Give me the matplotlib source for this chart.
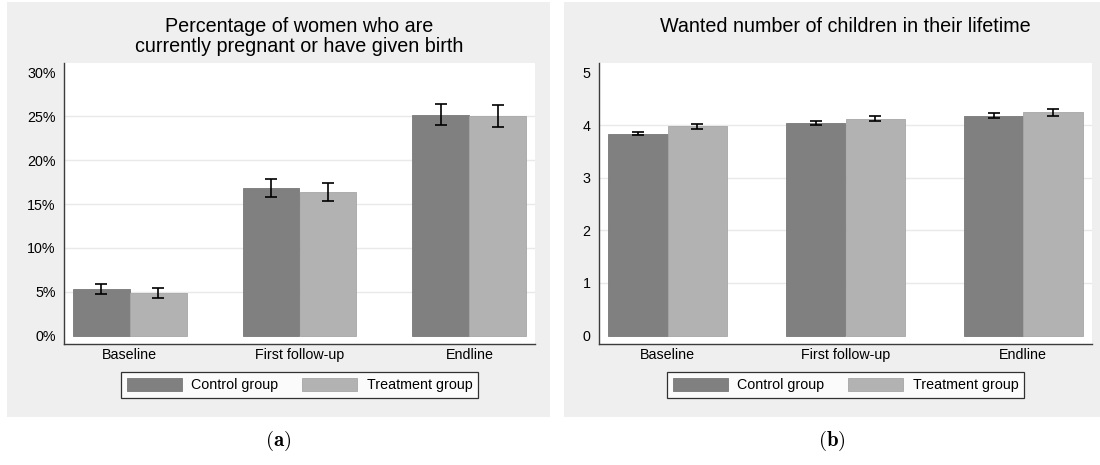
import numpy as np
import matplotlib
matplotlib.use("Agg")
import matplotlib.pyplot as plt
from matplotlib.patches import Rectangle

plt.rcParams['font.family'] = ['Liberation Sans', 'DejaVu Sans']
plt.rcParams['mathtext.fontset'] = 'cm'

# ---- data ----
waves = ['Baseline', 'First follow-up', 'Endline']
groups = ['Control group', 'Treatment group']

# Share of women currently pregnant or who have given birth (%)
preg_control = [5.3, 16.85, 25.2]
preg_control_ci = [0.6, 1.0, 1.2]
preg_treat = [4.85, 16.35, 25.05]
preg_treat_ci = [0.55, 1.03, 1.25]

# Wanted number of children in lifetime
kids_control = [3.84, 4.04, 4.18]
kids_control_ci = [0.035, 0.04, 0.05]
kids_treat = [3.98, 4.12, 4.24]
kids_treat_ci = [0.045, 0.05, 0.06]

pct_ticks = [0, 5, 10, 15, 20, 25, 30]
pct_labels = ['0%', '5%', '10%', '15%', '20%', '25%', '30%']
kid_ticks = [0, 1, 2, 3, 4, 5]

# ---- style ----
C_CTRL = '#808080'
C_TRT = '#b2b2b2'
PANEL = '#efefef'
SPINE = '#3c3c3c'
GRID = '#e9e9e9'
LABEL_SIZE = 10.3

W, H = 1100, 465
fig = plt.figure(figsize=(W / 100, H / 100), dpi=100)
fig.patch.set_facecolor('white')


def px(x0, y0, x1, y1):
    return [x0 / W, 1 - y1 / H, (x1 - x0) / W, (y1 - y0) / H]


# panel backgrounds, drawn beneath the axes
for (x0, x1) in [(7, 550), (564, 1100)]:
    fig.patches.append(Rectangle((x0 / W, 1 - 417 / H), (x1 - x0) / W, 415 / H,
                                 transform=fig.transFigure, facecolor=PANEL,
                                 edgecolor='none', zorder=-5))


def panel(rect, ctrl, ctrl_ci, trt, trt_ci, ylim, ticks, labels, title_lines):
    ax = fig.add_axes(rect)
    ax.set_zorder(2)
    ax.set_facecolor('white')
    x = np.arange(len(waves))
    bw = 0.335
    ax.bar(x - bw / 2, ctrl, width=bw, color=C_CTRL, edgecolor='#787878',
           linewidth=0.6, label=groups[0], zorder=2)
    ax.bar(x + bw / 2, trt, width=bw, color=C_TRT, edgecolor='#a6a6a6',
           linewidth=0.6, label=groups[1], zorder=2)
    ekw = dict(fmt='none', ecolor='black', elinewidth=1.2, capsize=4.5,
               capthick=1.2, zorder=3)
    ax.errorbar(x - bw / 2, ctrl, yerr=ctrl_ci, **ekw)
    ax.errorbar(x + bw / 2, trt, yerr=trt_ci, **ekw)

    ax.set_xlim(-0.386, 2.386)
    ax.set_ylim(*ylim)
    ax.set_xticks(x)
    ax.set_xticklabels(waves)
    ax.set_yticks(ticks)
    ax.set_yticklabels(labels)
    for t in ticks[1:-1]:
        ax.axhline(t, color=GRID, linewidth=1.0, zorder=1)
    ax.tick_params(axis='both', length=0, labelsize=LABEL_SIZE, colors='black')
    ax.tick_params(axis='x', pad=3)
    ax.tick_params(axis='y', pad=6)
    for s in ['top', 'right']:
        ax.spines[s].set_visible(False)
    for s in ['left', 'bottom']:
        ax.spines[s].set_color(SPINE)
        ax.spines[s].set_linewidth(1.0)

    cx = rect[0] + rect[2] / 2
    for (txt, ypx) in title_lines:
        fig.text(cx, 1 - ypx / H, txt, ha='center', va='center', fontsize=14.2)

    # legend box centred under the plot area
    ax_h_px = rect[3] * H
    legend_y = -(385 - 344) / ax_h_px
    leg = ax.legend(loc='center', bbox_to_anchor=(0.5, legend_y), ncol=2,
                    frameon=True, fancybox=False, fontsize=LABEL_SIZE,
                    handlelength=3.85, handleheight=1.05, handletextpad=0.65,
                    columnspacing=1.7, borderpad=0.42, borderaxespad=0)
    fr = leg.get_frame()
    fr.set_edgecolor('black')
    fr.set_linewidth(0.9)
    fr.set_facecolor('white')
    return ax


ax1 = panel(px(64, 63, 535, 344), preg_control, preg_control_ci,
            preg_treat, preg_treat_ci, (-0.95, 31.1), pct_ticks, pct_labels,
            [('Percentage of women who are', 27),
             ('currently pregnant or have given birth', 47)])
ax2 = panel(px(599, 63, 1092, 344), kids_control, kids_control_ci,
            kids_treat, kids_treat_ci, (-0.16, 5.18), kid_ticks,
            [str(t) for t in kid_ticks],
            [('Wanted number of children in their lifetime', 27)])

fig.text(278 / W, 1 - 441 / H, r'$\mathbf{(a)}$', ha='center', va='center',
         fontsize=15)
fig.text(832 / W, 1 - 441 / H, r'$\mathbf{(b)}$', ha='center', va='center',
         fontsize=15)

fig.savefig('out.png', dpi=100)
